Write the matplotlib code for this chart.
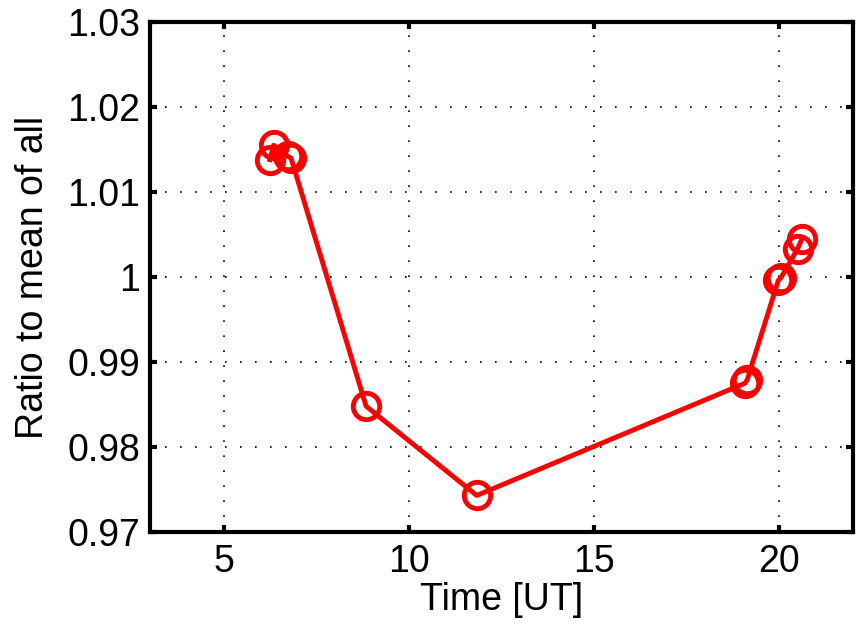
import numpy as np
import matplotlib
matplotlib.use('Agg')
import matplotlib.pyplot as plt

plt.rcParams['font.family'] = ['Liberation Sans', 'DejaVu Sans']

# time in UT and ratio to the mean of all
time_ut = [6.24, 6.34, 6.72, 6.81, 8.84, 11.83, 19.08, 19.14, 19.98, 20.05, 20.50, 20.62]
ratio = [1.0138, 1.0155, 1.0142, 1.0140, 0.9848, 0.9743, 0.9875, 0.9879,
         0.9996, 0.9999, 1.0033, 1.0045]

xticks = [5, 10, 15, 20]
yticks = [0.97, 0.98, 0.99, 1.0, 1.01, 1.02, 1.03]
ytick_labels = ['0.97', '0.98', '0.99', '1', '1.01', '1.02', '1.03']

fig = plt.figure(figsize=(8.57, 6.29), dpi=100)
ax = fig.add_axes([150/857, 1 - 532/629, 703/857, 510/629])

ax.plot(time_ut, ratio, '-o', color='red', lw=3.5, ms=19, mew=3.5,
        mfc='none', mec='red', zorder=3)

ax.set_xlim(3, 22)
ax.set_ylim(0.97, 1.03)
ax.set_xticks(xticks)
ax.set_yticks(yticks)
ax.set_yticklabels(ytick_labels)

ax.grid(True, color='black', linestyle=(0, (1, 8)), linewidth=1.2)
for s in ax.spines.values():
    s.set_linewidth(3)
ax.tick_params(axis='both', direction='in', length=5, width=3,
               top=True, right=True, labelsize=27)
ax.tick_params(axis='x', pad=9)
ax.tick_params(axis='y', pad=7)

ax.set_xlabel('Time [UT]', fontsize=27, labelpad=1)
ax.set_ylabel('Ratio to mean of all', fontsize=27, labelpad=12)

fig.savefig('out.png', dpi=100)
